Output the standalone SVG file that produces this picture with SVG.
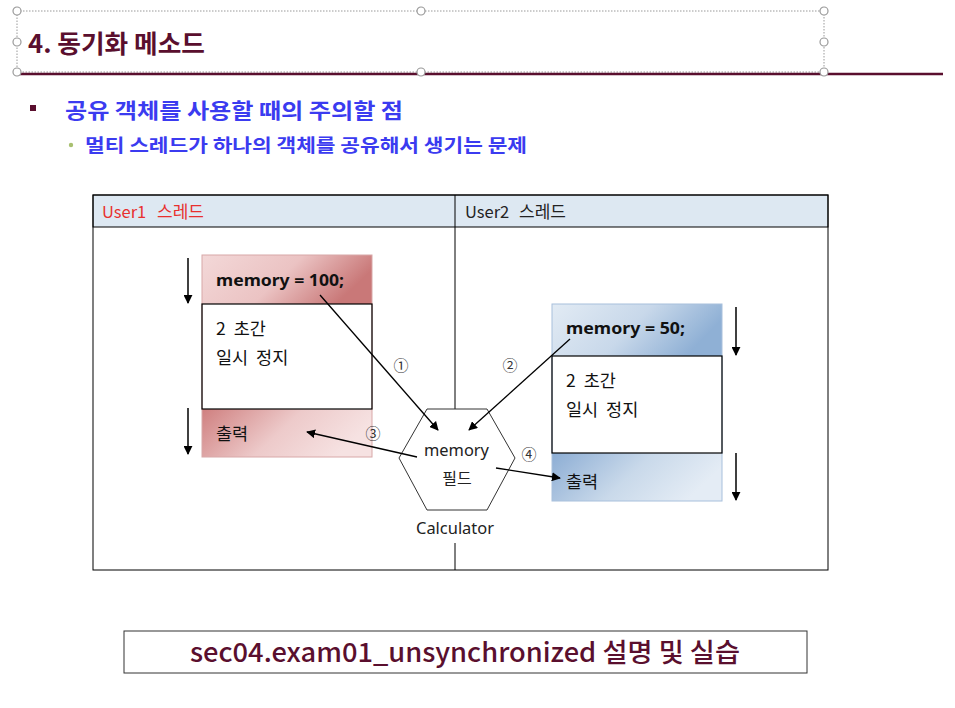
<svg xmlns="http://www.w3.org/2000/svg" width="955" height="708" viewBox="0 0 955 708">
<style>
.t{font-family:"Noto Sans CJK KR","Noto Sans",sans-serif;}
.m{font-family:"Noto Sans","Noto Sans CJK KR",sans-serif;}
.handle{fill:#fff;stroke:#999;stroke-width:1.2}
.conn{stroke:#000;stroke-width:1.3;fill:none;marker-end:url(#ah)}
.flow{stroke:#000;stroke-width:1.5;fill:none;marker-end:url(#ah2)}
.lbl{font-size:17.5px;fill:#111;word-spacing:4px}
.circ{font-size:15px;fill:#333}
</style>
<defs>
<marker id="ah" viewBox="0 0 10 10" refX="9" refY="5" markerWidth="9" markerHeight="9" orient="auto" markerUnits="userSpaceOnUse"><path d="M0,0 L10,5 L0,10 z" fill="#000"/></marker>
<marker id="ah2" viewBox="0 0 10 10" refX="9" refY="5" markerWidth="9" markerHeight="9" orient="auto" markerUnits="userSpaceOnUse"><path d="M0,0 L10,5 L0,10 z" fill="#000"/></marker>
<linearGradient id="redTop" x1="0" y1="0" x2="1" y2="0.3"><stop offset="0" stop-color="#f3d8d8"/><stop offset="0.55" stop-color="#ebc3c3"/><stop offset="1" stop-color="#c97878"/></linearGradient>
<linearGradient id="redBot" x1="0" y1="0" x2="1" y2="0.3"><stop offset="0" stop-color="#cf7f7f"/><stop offset="0.55" stop-color="#edcaca"/><stop offset="1" stop-color="#f6e2e2"/></linearGradient>
<linearGradient id="blueTop" x1="0" y1="0" x2="1" y2="0.3"><stop offset="0" stop-color="#e2ebf4"/><stop offset="0.55" stop-color="#c8d8ea"/><stop offset="1" stop-color="#8fb0d5"/></linearGradient>
<linearGradient id="blueBot" x1="0" y1="0" x2="1" y2="0.3"><stop offset="0" stop-color="#8cadd4"/><stop offset="0.55" stop-color="#c9d9ea"/><stop offset="1" stop-color="#e4ecf5"/></linearGradient>
</defs>
<rect width="955" height="708" fill="#fff"/>

<g id="title">
<rect x="17" y="11" width="807" height="61" fill="none" stroke="#999" stroke-width="1" stroke-dasharray="1.5,1.5"/>
<line x1="17" y1="74" x2="943" y2="74" stroke="#5a0f2e" stroke-width="2.5"/>
<circle class="handle" cx="17" cy="11" r="4"/><circle class="handle" cx="421" cy="11" r="4"/><circle class="handle" cx="824" cy="11" r="4"/>
<circle class="handle" cx="17" cy="42" r="4"/><circle class="handle" cx="824" cy="42" r="4"/>
<circle class="handle" cx="17" cy="72" r="4"/><circle class="handle" cx="421" cy="72" r="4"/><circle class="handle" cx="824" cy="72" r="4"/>
<text class="t" x="28" y="53" font-size="25" font-weight="bold" fill="#5a0f2e" textLength="177" lengthAdjust="spacingAndGlyphs">4. 동기화 메소드</text>
</g>

<g id="bullets">
<rect x="30" y="105" width="6" height="6" fill="#5a0f2e"/>
<text class="t" x="65" y="118" font-size="21" font-weight="bold" fill="#3b3bf0" textLength="338" lengthAdjust="spacingAndGlyphs">공유 객체를 사용할 때의 주의할 점</text>
<circle cx="71" cy="145" r="2.2" fill="#a8c070"/>
<text class="t" x="85" y="152" font-size="18" font-weight="bold" fill="#3b3bf0" textLength="442" lengthAdjust="spacingAndGlyphs">멀티 스레드가 하나의 객체를 공유해서 생기는 문제</text>
</g>

<g id="table">
<rect x="93" y="195" width="735" height="32" fill="#dde8f2" stroke="#000" stroke-width="1"/>
<rect x="93" y="195" width="735" height="375" fill="none" stroke="#000" stroke-width="1"/>
<line x1="455" y1="195" x2="455" y2="409" stroke="#000" stroke-width="1"/>
<line x1="455" y1="543" x2="455" y2="570" stroke="#000" stroke-width="1"/>
<text class="t" x="102" y="218" font-size="16.5" fill="#e8302e">User1<tspan x="157" font-size="17">스레드</tspan></text>
<text class="t" x="465" y="218" font-size="16.5" fill="#222">User2<tspan x="519" font-size="17">스레드</tspan></text>
</g>

<g id="user1-box">
<rect x="202" y="255" width="170" height="49" fill="url(#redTop)"/>
<rect x="202" y="304" width="170" height="105" fill="#fff"/>
<rect x="202" y="409" width="170" height="48" fill="url(#redBot)"/>
<rect x="202" y="255" width="170" height="202" fill="none" stroke="#d8a8a8" stroke-width="1"/>
<rect x="202" y="304" width="170" height="105" fill="none" stroke="#000" stroke-width="1.2"/>
<text class="m" x="216" y="286" font-size="16" font-weight="bold" fill="#111" textLength="128" lengthAdjust="spacingAndGlyphs">memory = 100;</text>
<text class="t lbl" x="216" y="335">2 초간</text>
<text class="t lbl" x="216" y="364">일시 정지</text>
<text class="t lbl" x="216" y="440">출력</text>
</g>

<g id="user2-box">
<rect x="552" y="304" width="170" height="52" fill="url(#blueTop)"/>
<rect x="552" y="356" width="170" height="97" fill="#fff"/>
<rect x="552" y="453" width="170" height="48" fill="url(#blueBot)"/>
<rect x="552" y="304" width="170" height="197" fill="none" stroke="#a8c0dc" stroke-width="1"/>
<rect x="552" y="356" width="170" height="97" fill="none" stroke="#000" stroke-width="1.2"/>
<text class="m" x="566" y="334" font-size="16" font-weight="bold" fill="#111" textLength="119" lengthAdjust="spacingAndGlyphs">memory = 50;</text>
<text class="t lbl" x="566" y="387">2 초간</text>
<text class="t lbl" x="566" y="416">일시 정지</text>
<text class="t lbl" x="566" y="488">출력</text>
</g>

<g id="calculator">
<polygon points="427,409 487,409 515,458 487,510 427,510 399,458" fill="#fff" stroke="#333" stroke-width="1"/>
<text class="m" x="424" y="456" font-size="16" fill="#222" textLength="65" lengthAdjust="spacingAndGlyphs">memory</text>
<text class="t" x="457" y="484" font-size="16" fill="#222" text-anchor="middle">필드</text>
<text class="m" x="416" y="534" font-size="16" fill="#222" textLength="78" lengthAdjust="spacingAndGlyphs">Calculator</text>
</g>

<g id="connectors">
<line class="flow" x1="188" y1="258" x2="188" y2="303"/>
<line class="flow" x1="188" y1="408" x2="188" y2="454"/>
<line class="flow" x1="736" y1="307" x2="736" y2="355"/>
<line class="flow" x1="736" y1="453" x2="736" y2="500"/>
<line class="conn" x1="320" y1="295" x2="438" y2="430"/>
<line class="conn" x1="570" y1="339" x2="469" y2="430"/>
<line class="conn" x1="417" y1="457" x2="307" y2="432"/>
<line class="conn" x1="496" y1="468" x2="560" y2="478"/>
<text class="t circ" x="401" y="371" text-anchor="middle">①</text>
<text class="t circ" x="510" y="371" text-anchor="middle">②</text>
<text class="t circ" x="373" y="439" text-anchor="middle">③</text>
<text class="t circ" x="529" y="460" text-anchor="middle">④</text>
</g>

<g id="footer">
<rect x="124" y="631" width="683" height="42" fill="#fff" stroke="#333" stroke-width="1"/>
<text class="t" x="190" y="662" font-size="26" font-weight="500" fill="#5a0f2e" textLength="550" lengthAdjust="spacingAndGlyphs">sec04.exam01_unsynchronized 설명 및 실습</text>
</g>
</svg>
